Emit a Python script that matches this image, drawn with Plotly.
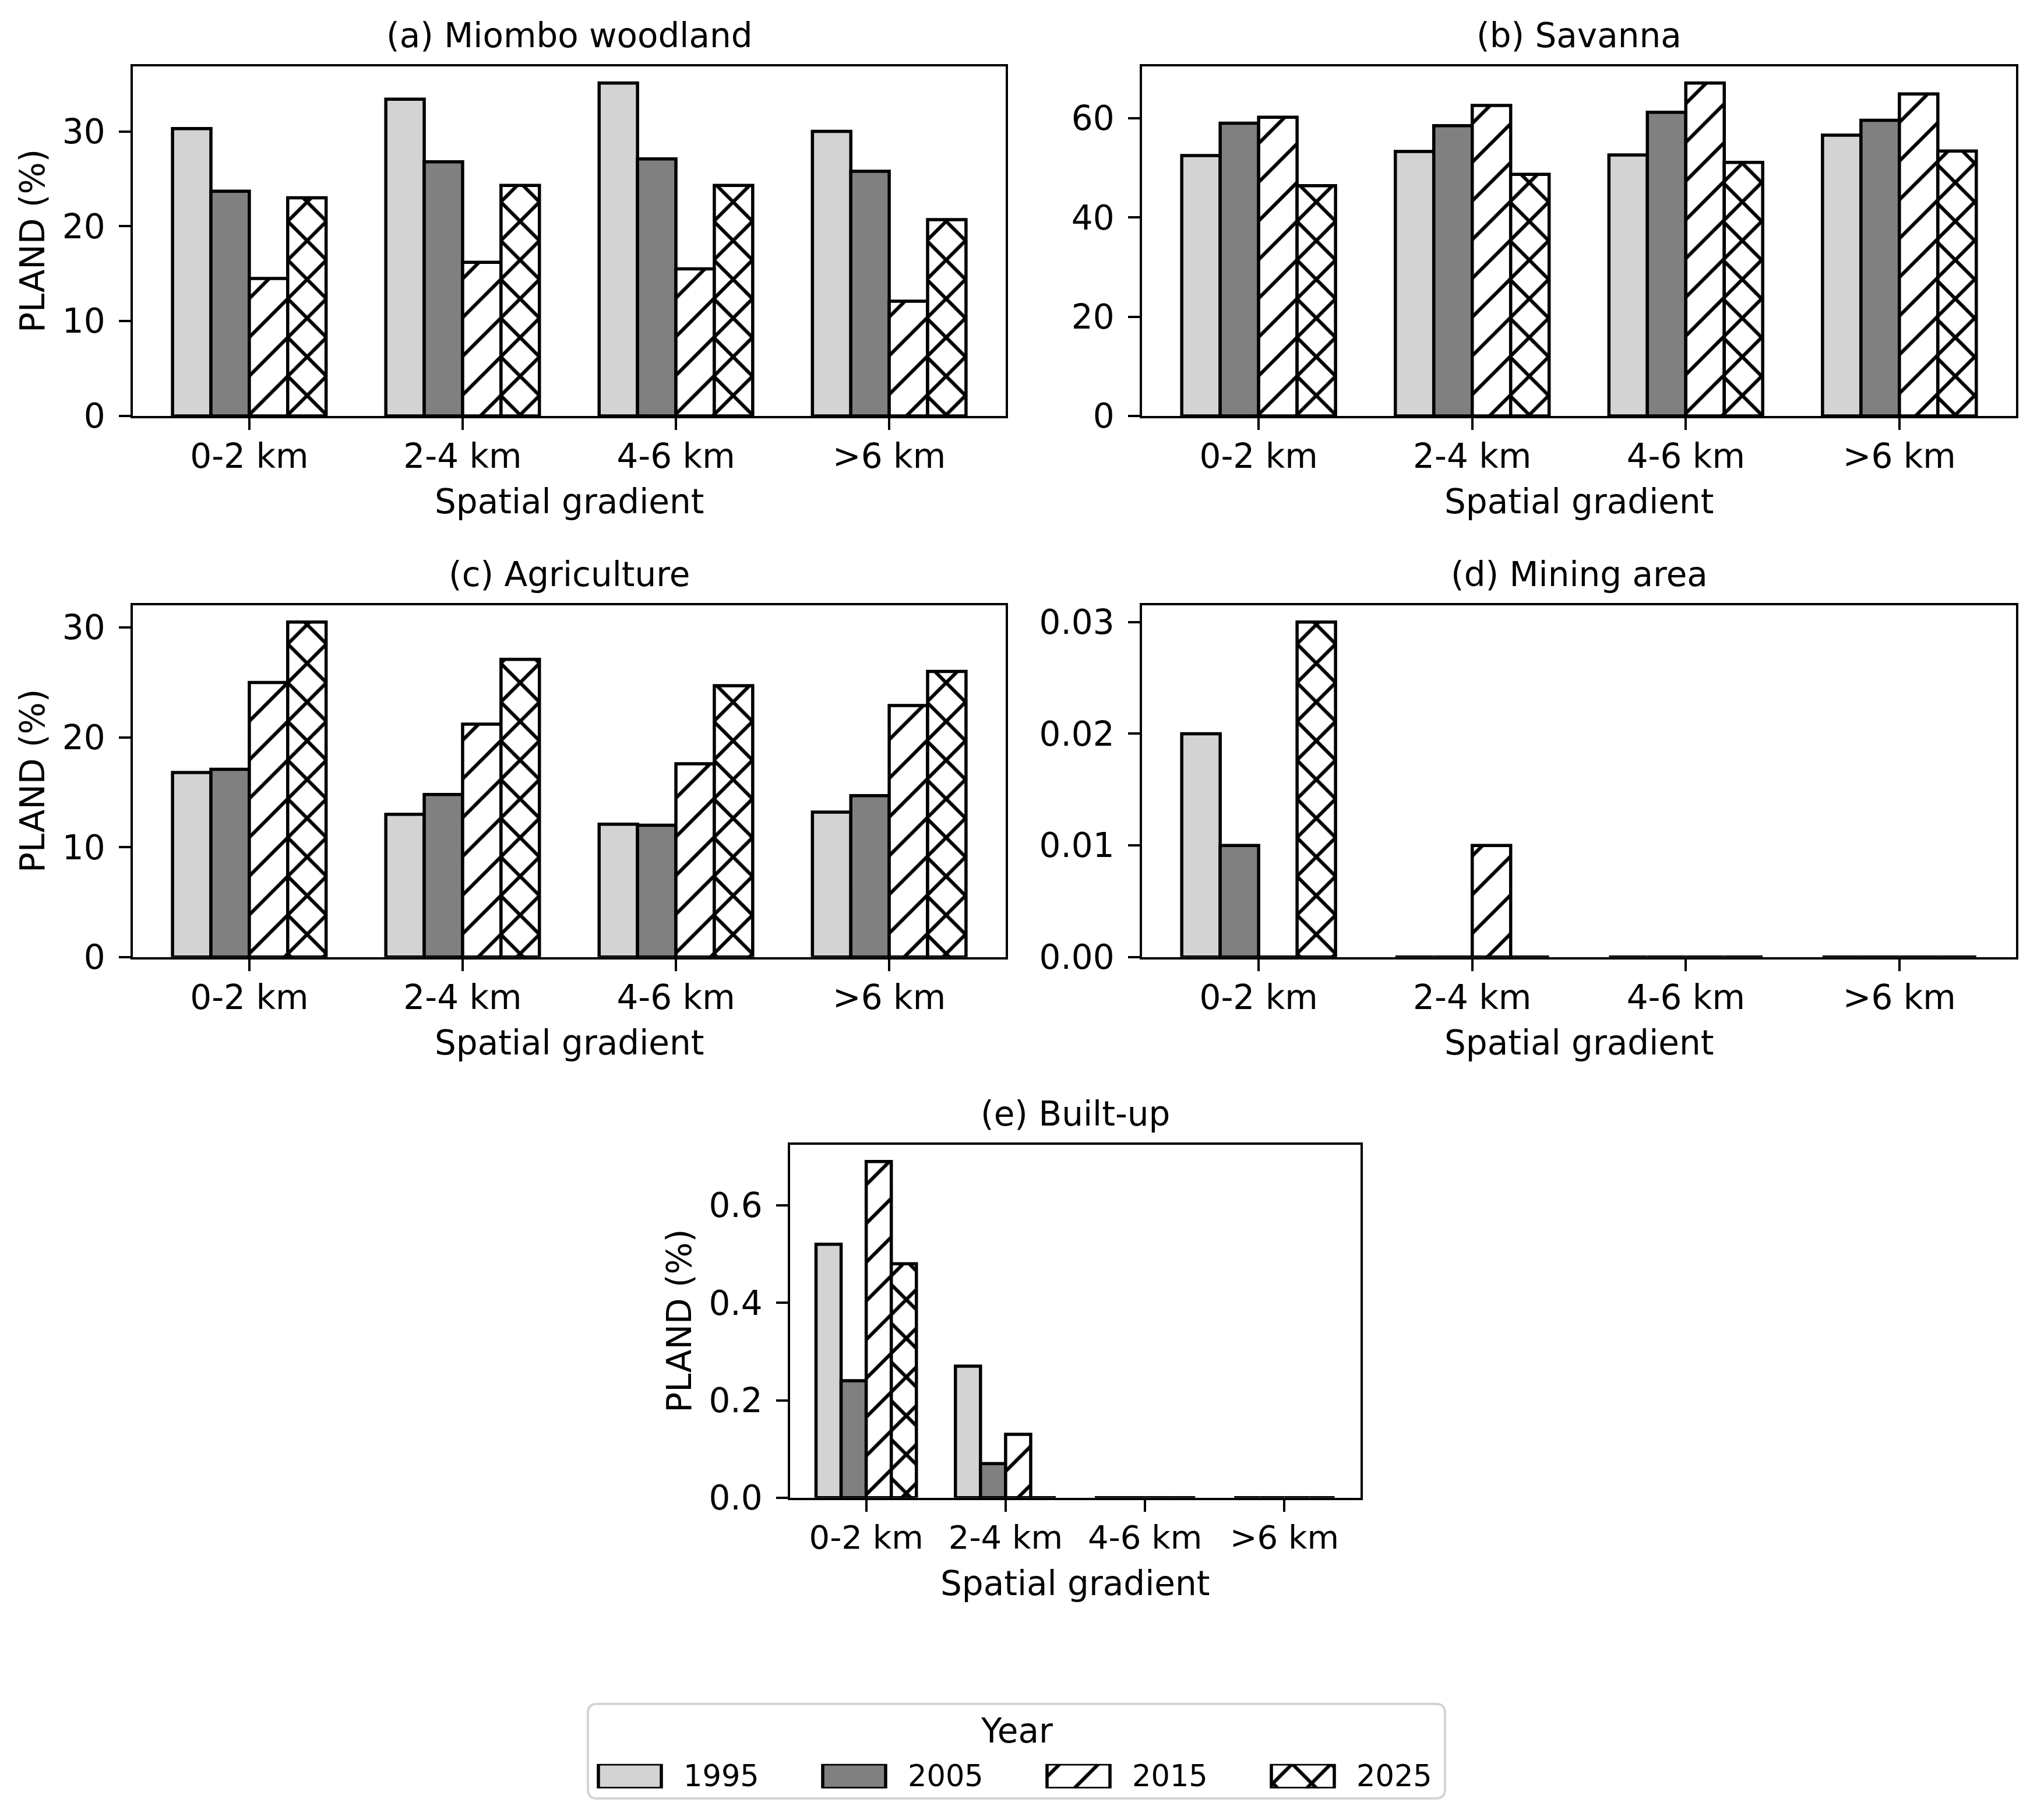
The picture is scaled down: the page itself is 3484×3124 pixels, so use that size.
import plotly.graph_objects as go

W, H = 3484, 3124

# ---------------- data ----------------
categories = ["0-2 km", "2-4 km", "4-6 km", ">6 km"]
years = ["1995", "2005", "2015", "2025"]

miombo_1995 = [30.3, 33.4, 35.1, 30.0]
miombo_2005 = [23.7, 26.8, 27.1, 25.8]
miombo_2015 = [14.5, 16.2, 15.5, 12.1]
miombo_2025 = [23.0, 24.3, 24.3, 20.7]

savanna_1995 = [52.5, 53.3, 52.6, 56.6]
savanna_2005 = [59.0, 58.5, 61.2, 59.6]
savanna_2015 = [60.2, 62.6, 67.1, 64.9]
savanna_2025 = [46.4, 48.7, 51.1, 53.4]

agri_1995 = [16.8, 13.0, 12.1, 13.2]
agri_2005 = [17.1, 14.8, 12.0, 14.7]
agri_2015 = [25.0, 21.2, 17.6, 22.9]
agri_2025 = [30.5, 27.1, 24.7, 26.0]

mining_1995 = [0.02, 0.0, 0.0, 0.0]
mining_2005 = [0.01, 0.0, 0.0, 0.0]
mining_2015 = [0.0, 0.01, 0.0, 0.0]
mining_2025 = [0.03, 0.0, 0.0, 0.0]

builtup_1995 = [0.52, 0.27, 0.0, 0.0]
builtup_2005 = [0.24, 0.07, 0.0, 0.0]
builtup_2015 = [0.69, 0.13, 0.0, 0.0]
builtup_2025 = [0.48, 0.0, 0.0, 0.0]

panel_titles = ["(a) Miombo woodland", "(b) Savanna", "(c) Agriculture",
                "(d) Mining area", "(e) Built-up"]
panel_series = [
    [miombo_1995, miombo_2005, miombo_2015, miombo_2025],
    [savanna_1995, savanna_2005, savanna_2015, savanna_2025],
    [agri_1995, agri_2005, agri_2015, agri_2025],
    [mining_1995, mining_2005, mining_2015, mining_2025],
    [builtup_1995, builtup_2005, builtup_2015, builtup_2025],
]
y_ticks = [
    [0, 10, 20, 30],
    [0, 20, 40, 60],
    [0, 10, 20, 30],
    [0, 0.01, 0.02, 0.03],
    [0, 0.2, 0.4, 0.6],
]
y_formats = ["d", "d", "d", ".2f", ".1f"]

# ---------------- style ----------------
FONT = "DejaVu Sans"
FS = 58
fills = ["#d3d3d3", "#808080", "white", "white"]
patterns = ["", "", "/", "x"]
pat_solidity = [0, 0, 0.13, 0.24]
PAT_SIZE = 47
EDGE_W = 5.5
AX_W = 3.5
BAR_W = 0.18

# panel boxes in pixels: left, right, top, bottom
boxes = [
    (228, 1726, 114, 714),
    (1960, 3460, 114, 714),
    (228, 1726, 1039, 1643),
    (1960, 3460, 1039, 1643),
    (1356, 2335, 1965, 2571),
]
ylabel_x = [56, None, 56, None, 1166]
xtick_fs = [FS, FS, FS, FS, 56]

# vertical correction measured between requested and rendered positions
VS, VOFF = 0.9876, 5.0


def fx(p):
    return p / W


def fy(p):
    return 1 - ((p - VOFF) / VS) / H


fig = go.Figure()
annotations = []
n = len(categories)
xs = list(range(n))


def pattern_for(k):
    if not patterns[k]:
        return None
    return dict(shape=patterns[k], fgcolor="black", bgcolor="white", fgopacity=1,
                size=PAT_SIZE, solidity=pat_solidity[k], fillmode="replace")


for pi, (series, box) in enumerate(zip(panel_series, boxes)):
    ax = "" if pi == 0 else str(pi + 1)
    for k, vals in enumerate(series):
        fig.add_trace(go.Bar(
            x=xs, y=vals, width=BAR_W, offset=-2 * BAR_W + k * BAR_W,
            xaxis="x" + ax, yaxis="y" + ax, showlegend=False,
            name=years[k],
            marker=dict(color=fills[k], line=dict(color="black", width=EDGE_W),
                        pattern=pattern_for(k)),
        ))
    ymax = max(max(v) for v in series) * 1.05
    l, r, t, b = box
    common = dict(showline=True, mirror=True, linecolor="black", linewidth=AX_W,
                  ticks="outside", ticklen=20, tickwidth=AX_W, tickcolor="black",
                  showgrid=False, zeroline=False)
    fig.update_layout(**{
        "xaxis" + ax: dict(domain=[fx(l), fx(r)], range=[-0.5 - 0.046, n - 0.5 + 0.046],
                           tickvals=xs, ticktext=categories, anchor="y" + ax,
                           ticklabelstandoff=-4,
                           tickfont=dict(family=FONT, size=xtick_fs[pi], color="black"),
                           **common),
        "yaxis" + ax: dict(domain=[fy(b), fy(t)], range=[0, ymax], tickvals=y_ticks[pi],
                           tickformat=y_formats[pi], anchor="x" + ax,
                           ticklabelstandoff=12,
                           tickfont=dict(family=FONT, size=FS, color="black"),
                           **common),
    })
    cx = (l + r) / 2
    annotations.append(dict(text=panel_titles[pi], x=fx(cx), y=fy(t - 53), xref="paper",
                            yref="paper", xanchor="center", yanchor="middle",
                            showarrow=False, font=dict(family=FONT, size=FS, color="black")))
    annotations.append(dict(text="Spatial gradient", x=fx(cx), y=fy(b + 147), xref="paper",
                            yref="paper", xanchor="center", yanchor="middle",
                            showarrow=False, font=dict(family=FONT, size=FS, color="black")))
    if ylabel_x[pi] is not None:
        annotations.append(dict(text="PLAND (%)", x=fx(ylabel_x[pi]), y=fy((t + b) / 2),
                                xref="paper", yref="paper", xanchor="center",
                                yanchor="middle", textangle=-90, showarrow=False,
                                font=dict(family=FONT, size=FS, color="black")))

# ---------------- legend (drawn as a small axis) ----------------
LEG_SPACING = 385
leg_c0 = 1081
leg_l = leg_c0 - LEG_SPACING / 2
leg_r = leg_l + LEG_SPACING * len(years)
patch_w = 108 / LEG_SPACING
for k, yr in enumerate(years):
    fig.add_trace(go.Bar(
        x=[k], y=[1], width=patch_w, xaxis="x6", yaxis="y6", showlegend=False,
        cliponaxis=False, name=yr,
        marker=dict(color=fills[k], line=dict(color="black", width=EDGE_W),
                    pattern=pattern_for(k)),
    ))
    annotations.append(dict(text=yr, x=k + 90 / LEG_SPACING, y=0.5, xref="x6", yref="y6",
                            xanchor="left", yanchor="middle", showarrow=False,
                            font=dict(family=FONT, size=51, color="black")))
fig.update_layout(
    xaxis6=dict(domain=[fx(leg_l), fx(leg_r)], range=[-0.5, len(years) - 0.5],
                visible=False, anchor="y6", fixedrange=True),
    yaxis6=dict(domain=[fy(3070), fy(3028)], range=[0, 1], visible=False,
                anchor="x6", fixedrange=True),
)
annotations.append(dict(text="Year", x=fx(1745), y=fy(2971), xref="paper", yref="paper",
                        xanchor="center", yanchor="middle", showarrow=False,
                        font=dict(family=FONT, size=FS, color="black")))

# rounded legend frame
x0, x1, y0, y1 = 1009, 2480, 2925, 3099
rr = 16
rx, ry = rr / W, rr / H
X0, X1 = fx(x0), fx(x1)
Y0 = max(fy(y1), 3.0 / H)
Y1 = fy(y0)
path = (f"M{X0 + rx},{Y1} L{X1 - rx},{Y1} Q{X1},{Y1} {X1},{Y1 - ry} "
        f"L{X1},{Y0 + ry} Q{X1},{Y0} {X1 - rx},{Y0} "
        f"L{X0 + rx},{Y0} Q{X0},{Y0} {X0},{Y0 + ry} "
        f"L{X0},{Y1 - ry} Q{X0},{Y1} {X0 + rx},{Y1} Z")
fig.add_shape(type="path", path=path, xref="paper", yref="paper",
              line=dict(color="#d4d4d4", width=4), fillcolor="rgba(0,0,0,0)", layer="below")

fig.update_layout(
    width=W, height=H, margin=dict(l=0, r=0, t=0, b=0),
    paper_bgcolor="white", plot_bgcolor="white",
    barmode="overlay", showlegend=False,
    annotations=annotations,
    font=dict(family=FONT, size=FS, color="black"),
)

fig.write_html("out.html")
